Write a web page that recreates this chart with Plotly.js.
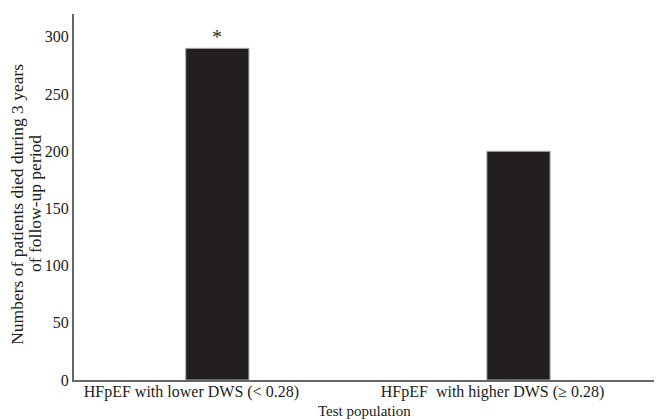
<!DOCTYPE html>
<html><head><meta charset="utf-8">
<script src="https://cdn.plot.ly/plotly-3.0.1.min.js"></script>
<style>html,body{margin:0;padding:0;background:#fff}#c{width:657px;height:420px}</style>
</head><body><div id="c"></div>
<script>
var categories = ["HFpEF with lower DWS (< 0.28)", "HFpEF  with higher DWS (\u2265 0.28)"];
var deaths = [290, 200];
var marks = ["*", ""];
var yTicks = [0, 50, 100, 150, 200, 250, 300];
var yTitleLines = ["Numbers of patients died during 3 years", "of follow-up period"];
var xTitle = "Test population";

var font = "Liberation Serif, Times New Roman, serif";
var data = [{
  type: "bar",
  x: categories,
  y: deaths,
  width: 0.21,
  marker: {color: "#231f20", line: {color: "#b0b0b0", width: 1}},
  hoverinfo: "none"
}];
var annotations = categories.map(function(c, i){
  return {x: c, y: deaths[i], xref: "x", yref: "y", text: marks[i], showarrow: false,
    yanchor: "bottom", yshift: -2, font: {family: font, size: 20, color: "#333"}};
});
var titleX = [-0.0985, -0.0672];
yTitleLines.forEach(function(t, i){
  annotations.push({text: t, xref: "paper", yref: "paper", x: titleX[i], y: 0.481,
    xanchor: "center", yanchor: "middle", textangle: -90, showarrow: false,
    font: {family: font, size: 17.5, color: "#222"}});
});
annotations.push({text: xTitle, xref: "paper", yref: "paper", x: 0.5, y: -0.085,
  xanchor: "center", yanchor: "middle", showarrow: false,
  font: {family: font, size: 15, color: "#222"}});

var layout = {
  width: 657, height: 420,
  margin: {l: 74, r: 3, t: 14, b: 40},
  paper_bgcolor: "#fff", plot_bgcolor: "#fff",
  showlegend: false,
  font: {family: font, color: "#222", size: 16},
  xaxis: {
    range: [-0.476, 1.45],
    showline: true, linecolor: "#666", linewidth: 2,
    showgrid: false, zeroline: false, ticks: "",
    ticklabelshift: -26,
    ticklabelstandoff: -4,
    tickfont: {family: font, size: 16, color: "#222"}
  },
  yaxis: {
    range: [0, 320],
    tickvals: yTicks,
    showline: true, linecolor: "#666", linewidth: 2,
    showgrid: false, zeroline: false, ticks: "",
    tickfont: {family: font, size: 16, color: "#222"}
  },
  annotations: annotations
};
Plotly.newPlot("c", data, layout, {displayModeBar: false, staticPlot: true});
</script></body></html>
